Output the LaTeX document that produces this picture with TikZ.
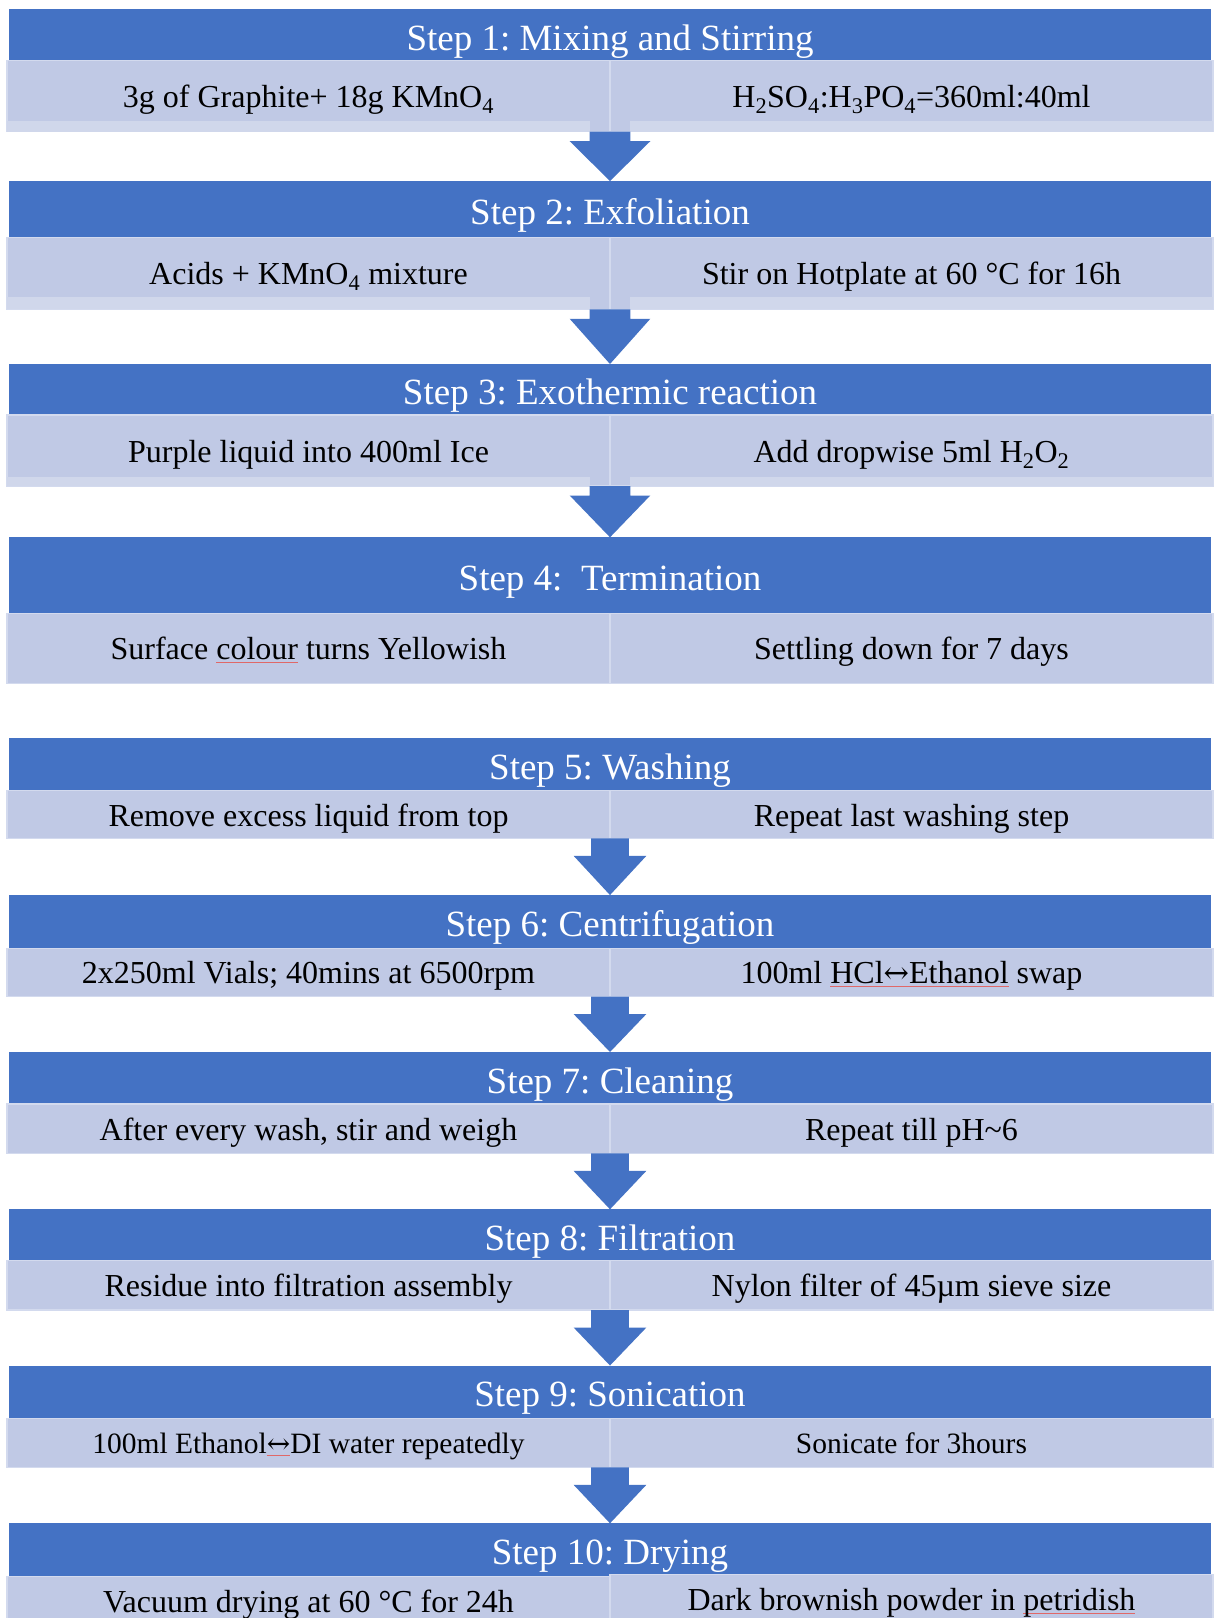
\documentclass[tikz,border=0pt]{standalone}
\usepackage{fontspec}
\setmainfont{Liberation Serif}
\newfontfamily\arrfont{DejaVu Serif}[Scale=0.95]
\usetikzlibrary{calc}
\frenchspacing
\definecolor{hdr}{HTML}{4472C4}
\definecolor{bodyc}{HTML}{C0C9E5}
\definecolor{stripc}{HTML}{D0D7EB}
\definecolor{edgec}{HTML}{D3DAEE}
\definecolor{spellred}{HTML}{E06868}
\newcommand\spellul[1]{\setbox0\hbox{#1}\rlap{\color{spellred}\rule[-0.09em]{\wd0}{0.035em}}#1}
\newcommand\lrarr{{\arrfont ↔}}
\newcommand\blockarr[5]{\fill[hdr] let \p1=(#1), \p2=(#2) in
  ({\x1-#3},\y1) -- ({\x1+#3},\y1) -- ({\x1+#3},{\y1-#5}) -- ({\x1+#4},{\y1-#5})
  -- (\x2,\y2) -- ({\x1-#4},{\y1-#5}) -- ({\x1-#3},{\y1-#5}) -- cycle;}
\tikzset{
  hdrbox/.style={fill=hdr, text=white, inner sep=0pt, outer sep=0pt,
    minimum width=1201.4pt, font=\fontsize{37}{40}\selectfont\frenchspacing,
    text height=30pt, text depth=0pt},
  cellbox/.style={fill=bodyc, draw=edgec, line width=1.5pt, inner sep=0pt, outer sep=0pt,
    minimum width=603pt, font=\fontsize{32}{36}\selectfont\frenchspacing,
    text height=23pt, text depth=0pt},
  smallcell/.style={cellbox, font=\fontsize{29.5}{33}\selectfont\frenchspacing, text height=22pt},
  stripbox/.style={fill=stripc}
}
\begin{document}
\begin{tikzpicture}[x=1pt,y=-1pt]
\useasboundingbox (0,0) rectangle (1218,1618);
\fill[white] (0,0) rectangle (1218,1618);
\clip (0,0) rectangle (1218,1618);

% Step 1
\node[hdrbox, minimum height=51.4pt] (h1) at (610,35) {Step 1: Mixing and Stirring};
\node[cellbox, minimum height=71pt] (c1L) at (308.5,96.2) {3g of Graphite+ 18g KMnO\textsubscript{4}};
\node[cellbox, minimum height=71pt] (c1R) at (911.5,96.2) {H\textsubscript{2}SO\textsubscript{4}:H\textsubscript{3}PO\textsubscript{4}=360ml:40ml};
\fill[stripbox] (7,120.7) rectangle (590,131.7);
\fill[stripbox] (630,120.7) rectangle (1213,131.7);

% Step 2
\node[hdrbox, minimum height=56.3pt] (h2) at (610,209.2) {Step 2: Exfoliation};
\node[cellbox, minimum height=72pt] (c2L) at (308.5,273.3) {Acids + KMnO\textsubscript{4} mixture};
\node[cellbox, minimum height=72pt] (c2R) at (911.5,273.3) {Stir on Hotplate at 60 °C for 16h};
\fill[stripbox] (7,297.3) rectangle (590,309.3);
\fill[stripbox] (630,297.3) rectangle (1213,309.3);

% Step 3
\node[hdrbox, minimum height=51pt] (h3) at (610,389.5) {Step 3: Exothermic reaction};
\node[cellbox, minimum height=71pt] (c3L) at (308.5,450.5) {Purple liquid into 400ml Ice};
\node[cellbox, minimum height=71pt] (c3R) at (911.5,450.5) {Add dropwise 5ml H\textsubscript{2}O\textsubscript{2}};
\fill[stripbox] (7,476.7) rectangle (590,486);
\fill[stripbox] (630,476.7) rectangle (1213,486);

% Step 4
\node[hdrbox, minimum height=76pt] (h4) at (610,575.3) {Step 4:\ \ Termination};
\node[cellbox, minimum height=70.2pt] (c4L) at (308.5,648.4) {Surface \spellul{colour} turns Yellowish};
\node[cellbox, minimum height=70.2pt] (c4R) at (911.5,648.4) {Settling down for 7 days};

% Step 5
\node[hdrbox, minimum height=53pt] (h5) at (610,764.2) {Step 5: Washing};
\node[cellbox, minimum height=47.6pt] (c5L) at (308.5,814.5) {Remove excess liquid from top};
\node[cellbox, minimum height=47.6pt] (c5R) at (911.5,814.5) {Repeat last washing step};

% Step 6
\node[hdrbox, minimum height=53.3pt] (h6) at (610,921.7) {Step 6: Centrifugation};
\node[cellbox, minimum height=48.2pt] (c6L) at (308.5,972.4) {2x250ml Vials; 40mins at 6500rpm};
\node[cellbox, minimum height=48.2pt] (c6R) at (911.5,972.4) {100ml \spellul{HCl\lrarr Ethanol} swap};

% Step 7
\node[hdrbox, minimum height=52pt] (h7) at (610,1078) {Step 7: Cleaning};
\node[cellbox, minimum height=49.3pt] (c7L) at (308.5,1128.65) {After every wash, stir and weigh};
\node[cellbox, minimum height=49.3pt] (c7R) at (911.5,1128.65) {Repeat till pH\textasciitilde 6};

% Step 8
\node[hdrbox, minimum height=51.4pt] (h8) at (610,1235) {Step 8: Filtration};
\node[cellbox, minimum height=49.3pt] (c8L) at (308.5,1285.35) {Residue into filtration assembly};
\node[cellbox, minimum height=49.3pt] (c8R) at (911.5,1285.35) {Nylon filter of 45µm sieve size};

% Step 9
\node[hdrbox, minimum height=52.8pt] (h9) at (610,1391.9) {Step 9: Sonication};
\node[smallcell, minimum height=49pt] (c9L) at (308.5,1442.8) {100ml Ethanol\spellul{\lrarr}DI water repeatedly};
\node[smallcell, minimum height=49pt] (c9R) at (911.5,1442.8) {Sonicate for 3hours};

% Step 10
\node[hdrbox, minimum height=52.2pt] (h10) at (610,1549.4) {Step 10: Drying};
\node[cellbox, minimum height=49.5pt] (c10L) at (308.5,1601.25) {Vacuum drying at 60 °C for 24h};
\node[cellbox, minimum height=49.5pt] (c10R) at (911.5,1599.25) {Dark brownish powder in \spellul{petridish}};

% Arrows
\blockarr{c1L.south east}{h2.north}{20.3pt}{40.3pt}{9.5pt}
\blockarr{c2L.south east}{h3.north}{20.3pt}{40.3pt}{9.5pt}
\blockarr{c3L.south east}{h4.north}{20.3pt}{40.3pt}{9.5pt}
\blockarr{c5L.south east}{h6.north}{18.8pt}{36.4pt}{17.5pt}
\blockarr{c6L.south east}{h7.north}{18.8pt}{36.4pt}{17.5pt}
\blockarr{c7L.south east}{h8.north}{18.8pt}{36.4pt}{17.5pt}
\blockarr{c8L.south east}{h9.north}{18.8pt}{36.4pt}{17.5pt}
\blockarr{c9L.south east}{h10.north}{18.8pt}{36.4pt}{17.5pt}
\end{tikzpicture}
\end{document}
